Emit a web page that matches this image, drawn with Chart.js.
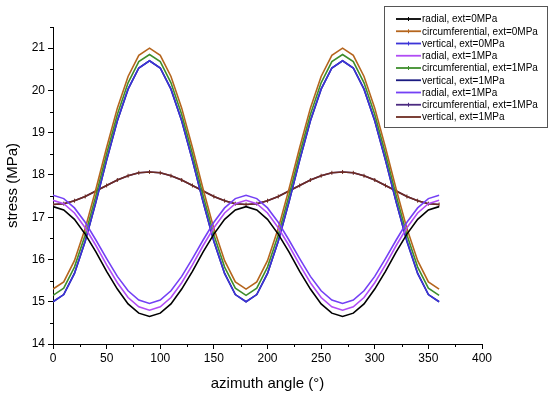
<!DOCTYPE html>
<html>
<head>
<meta charset="utf-8">
<script src="https://cdn.jsdelivr.net/npm/chart.js@4.4.0/dist/chart.umd.min.js"></script>
<style>
  html, body { margin: 0; padding: 0; background: #fff; }
  #wrap { width: 550px; height: 397px; position: relative; }
</style>
</head>
<body>
<div id="wrap"><canvas id="chart"></canvas></div>
<script>
const angles = [0,10,20,30,40,50,60,70,80,90,100,110,120,130,140,150,160,170,180,
  190,200,210,220,230,240,250,260,270,280,290,300,310,320,330,340,350,360];

const radial0 = [17.25,17.17,16.95,16.60,16.18,15.72,15.30,14.95,14.73,14.65,14.73,14.95,15.30,15.72,16.18,16.60,16.95,17.17,17.25,
  17.17,16.95,16.60,16.18,15.72,15.30,14.95,14.73,14.65,14.73,14.95,15.30,15.72,16.18,16.60,16.95,17.17,17.25];
const circ0 = [15.30,15.47,15.97,16.73,17.66,18.65,19.58,20.33,20.83,21.00,20.83,20.33,19.58,18.65,17.66,16.73,15.97,15.47,15.30,
  15.47,15.97,16.73,17.66,18.65,19.58,20.33,20.83,21.00,20.83,20.33,19.58,18.65,17.66,16.73,15.97,15.47,15.30];
const vert0 = [15.00,15.17,15.67,16.43,17.36,18.35,19.28,20.03,20.53,20.70,20.53,20.03,19.28,18.35,17.36,16.43,15.67,15.17,15.00,
  15.17,15.67,16.43,17.36,18.35,19.28,20.03,20.53,20.70,20.53,20.03,19.28,18.35,17.36,16.43,15.67,15.17,15.00];
const radial1 = [17.40,17.32,17.10,16.75,16.33,15.87,15.45,15.10,14.88,14.80,14.88,15.10,15.45,15.87,16.33,16.75,17.10,17.32,17.40,
  17.32,17.10,16.75,16.33,15.87,15.45,15.10,14.88,14.80,14.88,15.10,15.45,15.87,16.33,16.75,17.10,17.32,17.40];
const circ1 = [15.15,15.32,15.82,16.58,17.51,18.50,19.43,20.18,20.68,20.85,20.68,20.18,19.43,18.50,17.51,16.58,15.82,15.32,15.15,
  15.32,15.82,16.58,17.51,18.50,19.43,20.18,20.68,20.85,20.68,20.18,19.43,18.50,17.51,16.58,15.82,15.32,15.15];
const vert1 = [15.00,15.17,15.67,16.43,17.36,18.35,19.28,20.03,20.53,20.70,20.53,20.03,19.28,18.35,17.36,16.43,15.67,15.17,15.00,
  15.17,15.67,16.43,17.36,18.35,19.28,20.03,20.53,20.70,20.53,20.03,19.28,18.35,17.36,16.43,15.67,15.17,15.00];
const radial1b = [17.52,17.44,17.22,16.88,16.46,16.02,15.60,15.26,15.04,14.96,15.04,15.26,15.60,16.02,16.46,16.88,17.22,17.44,17.52,
  17.44,17.22,16.88,16.46,16.02,15.60,15.26,15.04,14.96,15.04,15.26,15.60,16.02,16.46,16.88,17.22,17.44,17.52];
const circ1b = [17.30,17.32,17.39,17.49,17.62,17.75,17.88,17.98,18.05,18.07,18.05,17.98,17.88,17.75,17.62,17.49,17.39,17.32,17.30,
  17.32,17.39,17.49,17.62,17.75,17.88,17.98,18.05,18.07,18.05,17.98,17.88,17.75,17.62,17.49,17.39,17.32,17.30];
const vert1b = [17.30,17.32,17.39,17.49,17.62,17.75,17.88,17.98,18.05,18.07,18.05,17.98,17.88,17.75,17.62,17.49,17.39,17.32,17.30,
  17.32,17.39,17.49,17.62,17.75,17.88,17.98,18.05,18.07,18.05,17.98,17.88,17.75,17.62,17.49,17.39,17.32,17.30];

const labels = [
  "radial, ext=0MPa", "circumferential, ext=0MPa", "vertical, ext=0MPa",
  "radial, ext=1MPa", "circumferential, ext=1MPa", "vertical, ext=1MPa",
  "radial, ext=1MPa", "circumferential, ext=1MPa", "vertical, ext=1MPa"
];
const colors = ["#000000", "#b5651d", "#3c34d8", "#b14cf5", "#3e8e2c", "#1a1a80", "#7440f5", "#4b2a80", "#6e2c22"];
const series = [radial0, circ0, vert0, radial1, circ1, vert1, radial1b, circ1b, vert1b];
const markers = [true, true, true, false, true, false, false, true, false];

const FONT = "'Liberation Sans', Arial, sans-serif";

function xy(arr) { return arr.map((v, i) => ({ x: angles[i], y: v })); }

// drawing order: listed first = on top
const drawOrder = [0, 3, 6, 1, 4, 2, 5, 8, 7];

const datasets = series.map((s, i) => ({
  label: labels[i],
  data: xy(s),
  borderColor: colors[i],
  backgroundColor: colors[i],
  borderWidth: 1.6,
  pointRadius: 0,
  order: drawOrder.indexOf(i),
  tension: 0
}));
// tick markers on the flat curve
datasets[8].pointRadius = 2;
datasets[8].pointStyle = "line";
datasets[8].pointRotation = 90;
datasets[8].pointBorderWidth = 1;

const minorTicks = {
  id: "minorTicks",
  afterDraw(chart) {
    const ctx = chart.ctx;
    const xs = chart.scales.x, ys = chart.scales.y;
    ctx.save();
    ctx.strokeStyle = "#000";
    ctx.lineWidth = 1;
    ctx.beginPath();
    for (let v = 25; v < 400; v += 50) {
      const px = Math.round(xs.getPixelForValue(v)) + 0.5;
      ctx.moveTo(px, ys.bottom); ctx.lineTo(px, ys.bottom + 3);
    }
    for (let v = 14.5; v <= 21.5; v += 1) {
      const py = Math.round(ys.getPixelForValue(v)) + 0.5;
      ctx.moveTo(xs.left, py); ctx.lineTo(xs.left - 3, py);
    }
    ctx.stroke();
    ctx.restore();
  }
};

const boxLegend = {
  id: "boxLegend",
  afterDraw(chart) {
    const ctx = chart.ctx;
    const x0 = 384, y0 = 6, w = 163, h = 121;
    ctx.save();
    ctx.fillStyle = "#fff";
    ctx.fillRect(x0, y0, w, h);
    ctx.strokeStyle = "#555";
    ctx.lineWidth = 1;
    ctx.strokeRect(x0 + 0.5, y0 + 0.5, w, h);
    ctx.font = "10px " + FONT;
    ctx.textBaseline = "middle";
    chart.data.datasets.forEach((d, i) => {
      const y = y0 + 13 + i * 12.25;
      ctx.strokeStyle = d.borderColor;
      ctx.lineWidth = 1.8;
      ctx.beginPath();
      ctx.moveTo(396, y); ctx.lineTo(421, y);
      ctx.stroke();
      if (markers[i]) {
        ctx.lineWidth = 1;
        ctx.beginPath();
        ctx.moveTo(408.5, y - 2); ctx.lineTo(408.5, y + 2);
        ctx.stroke();
      }
      ctx.fillStyle = "#000";
      ctx.fillText(d.label, 422, y + 0.5);
    });
    ctx.restore();
  }
};

new Chart(document.getElementById("chart"), {
  type: "line",
  data: { datasets },
  options: {
    responsive: true,
    maintainAspectRatio: false,
    animation: false,
    events: [],
    layout: { padding: { left: 0, right: 68, top: 27, bottom: 0 } },
    plugins: { legend: { display: false }, tooltip: { enabled: false } },
    scales: {
      x: {
        type: "linear",
        min: 0, max: 400,
        ticks: { stepSize: 50, color: "#000", font: { family: FONT, size: 12 }, padding: 2, maxRotation: 0 },
        grid: { drawOnChartArea: false, tickLength: 5, color: "#000" },
        border: { color: "#000", width: 1 },
        title: { display: true, text: "azimuth angle (°)", color: "#000", font: { family: FONT, size: 15 }, padding: { top: 4 } },
        afterFit(scale) { scale.height = 53; }
      },
      y: {
        min: 14, max: 21.5,
        ticks: {
          stepSize: 1, color: "#000", font: { family: FONT, size: 12 }, padding: 3,
          callback: v => Number.isInteger(v) ? v : ""
        },
        grid: {
          drawOnChartArea: false, tickLength: 5,
          color: c => (c.tick && Number.isInteger(c.tick.value)) ? "#000" : "transparent"
        },
        border: { color: "#000", width: 1 },
        title: { display: true, text: "stress (MPa)", color: "#000", font: { family: FONT, size: 15 }, padding: { bottom: 2 } },
        afterFit(scale) { scale.width = 53; }
      }
    }
  },
  plugins: [minorTicks, boxLegend]
});
</script>
</body>
</html>
